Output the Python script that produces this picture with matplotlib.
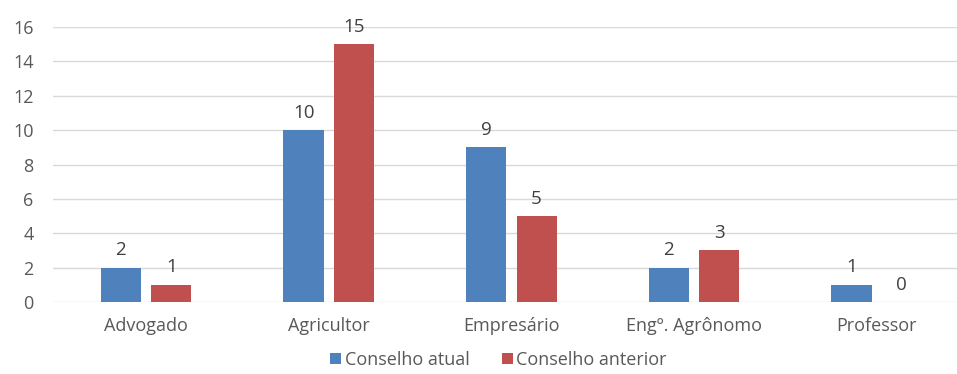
import matplotlib.pyplot as plt
import numpy as np

categorias = ["Advogado", "Agricultor", "Empresário", "Engº. Agrônomo", "Professor"]
conselho_atual = [2, 10, 9, 2, 1]
conselho_anterior = [1, 15, 5, 3, 0]

plt.rcParams['font.family'] = ['Open Sans', 'DejaVu Sans']
cor_texto = '#595959'

fig = plt.figure(figsize=(9.57, 3.74), dpi=100)
ax = fig.add_axes([53 / 957, 72 / 374, 1 - 53 / 957, 275 / 374])

x = np.arange(len(categorias))
largura = 0.22
desloc = 0.138
b1 = ax.bar(x - desloc, conselho_atual, largura, color='#4F81BD', label='Conselho atual', zorder=3)
b2 = ax.bar(x + desloc, conselho_anterior, largura, color='#C0504D', label='Conselho anterior', zorder=3)

for barras in (b1, b2):
    ax.bar_label(barras, padding=6, fontsize=13.5, color='#404040')

ax.set_ylim(0, 16)
ax.set_yticks(range(0, 17, 2))
ax.set_xlim(-0.51, 4.44)
ax.set_xticks(x)
ax.set_xticklabels(categorias)
ax.grid(axis='y', color='#D9D9D9', linewidth=1, zorder=0)
for s in ax.spines.values():
    s.set_visible(False)
ax.tick_params(axis='both', length=0, labelsize=13, colors=cor_texto)
ax.tick_params(axis='x', pad=11)
ax.tick_params(axis='y', pad=14)

fig.legend(loc='lower center', bbox_to_anchor=(0.521, -0.03), ncol=2, frameon=False,
           fontsize=13, labelcolor=cor_texto, handlelength=0.6, handleheight=0.6,
           handletextpad=0.2, columnspacing=1.8)

fig.savefig('out.png', dpi=100)
